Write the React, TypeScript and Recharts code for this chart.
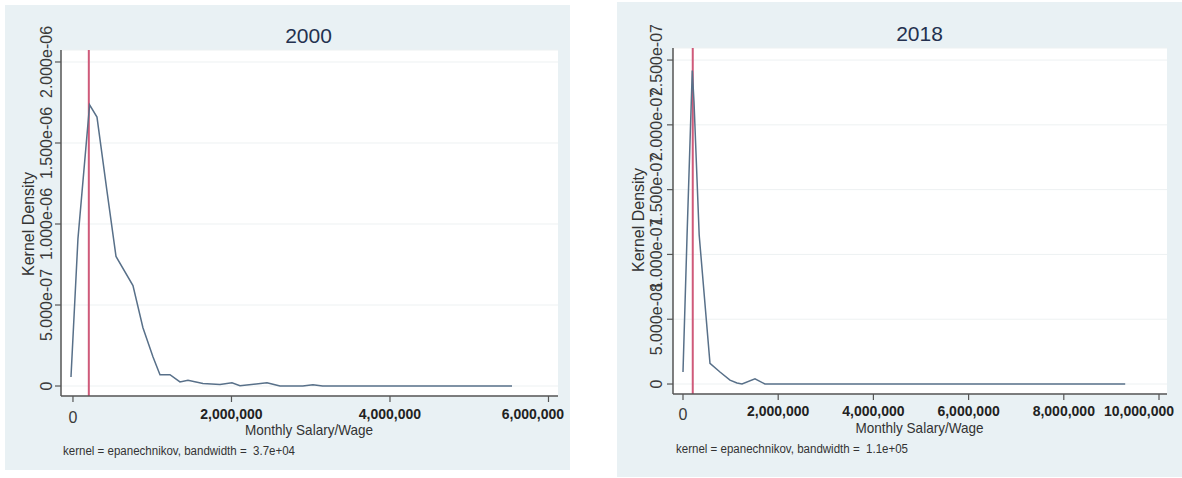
import React from 'react';
import { LineChart, Line, XAxis, YAxis, CartesianGrid, ReferenceLine, Label } from 'recharts';

// ---- data ----
const wage2000 = [-25000, 63000, 210000, 303000, 430000, 543000, 757000, 883000, 1009000, 1098000, 1224000, 1350000, 1451000, 1640000, 1855000, 2006000, 2107000, 2448000, 2612000, 2900000, 3028000, 3150000, 5540000];
const density2000 = [0.056e-6, 0.91e-6, 1.735e-6, 1.66e-6, 1.2e-6, 0.8e-6, 0.62e-6, 0.36e-6, 0.18e-6, 0.07e-6, 0.07e-6, 0.025e-6, 0.035e-6, 0.015e-6, 0.01e-6, 0.02e-6, 0.002e-6, 0.02e-6, 0, 0, 0.008e-6, 0, 0];

const wage2018 = [0, 84000, 195000, 231000, 340000, 567000, 777000, 987000, 1134000, 1240000, 1512000, 1722000, 9290000];
const density2018 = [0.93e-8, 11.3e-8, 24.2e-8, 21.8e-8, 11.5e-8, 1.6e-8, 0.93e-8, 0.3e-8, 0.08e-8, 0, 0.4e-8, 0, 0];

const xTicks2000 = [0, 2000000, 4000000, 6000000];
const yTicks2000 = [0, 5e-7, 1e-6, 1.5e-6, 2e-6];
const xTicks2018 = [0, 2000000, 4000000, 6000000, 8000000, 10000000];
const yTicks2018 = [0, 5e-8, 1e-7, 1.5e-7, 2e-7, 2.5e-7];

const median2000 = 200000;
const median2018 = 205000;

const titles = ['2000', '2018'];
const xTitle = 'Monthly Salary/Wage';
const yTitle = 'Kernel Density';
const notes = ['kernel = epanechnikov, bandwidth =  3.7e+04', 'kernel = epanechnikov, bandwidth =  1.1e+05'];

const FONT = '"Liberation Sans", Arial, sans-serif';
const PANEL_BG = '#e9f1f4';
const LINE_COLOR = '#587089';
const RED = '#cf5a7a';
const AXIS = '#555';

const fmtY = (v: number) => {
  if (v === 0) return '0';
  return v.toExponential(3).replace(/e([+-])(\d)$/, 'e$10$2');
};
const fmtX = (v: number) => v.toLocaleString('en-US');

const makeYTick = (dx: number) => (props: any) => {
  const { x, y, payload } = props;
  const bx = x + dx;
  return (
    <text x={bx} y={y} transform={`rotate(-90 ${bx} ${y})`} textAnchor="middle" fontSize={16} fontFamily={FONT} fill="#3a3a3a">
      {fmtY(payload.value)}
    </text>
  );
};

const makeXTick = (dyBold: number, dyZero: number, lastValue: number, lastRight: number) => (props: any) => {
  const { x, y, payload } = props;
  const v = payload.value;
  if (v === 0) {
    return (
      <text x={x} y={y + dyZero} textAnchor="middle" fontSize={16} fontFamily={FONT} fill="#3a3a3a">0</text>
    );
  }
  if (v === lastValue) {
    return (
      <text x={lastRight} y={y + dyBold} textAnchor="end" fontSize={14} fontWeight="bold" fontFamily={FONT} fill="#222">
        {fmtX(v)}
      </text>
    );
  }
  return (
    <text x={x} y={y + dyBold} textAnchor="middle" fontSize={14} fontWeight="bold" fontFamily={FONT} fill="#222">
      {fmtX(v)}
    </text>
  );
};

type PanelProps = {
  left: number; top: number; width: number; height: number;
  margin: { top: number; right: number; bottom: number; left: number };
  xs: number[]; ys: number[]; xTicks: number[]; yTicks: number[];
  xDomain: [number, number]; yDomain: [number, number];
  median: number; title: string; note: string;
  titleX: number; titleY: number; yTitleX: number; yTitleY: number;
  xTitleX: number; xTitleY: number; noteX: number; noteY: number;
  yTickDx: number; xTickDyBold: number; xTickDyZero: number; lastTickRight: number;
};

function Panel(p: PanelProps) {
  const data = p.xs.map((x, i) => ({ x, y: p.ys[i] }));
  return (
    <div style={{ position: 'absolute', left: p.left, top: p.top, width: p.width, height: p.height, background: PANEL_BG }}>
      <LineChart width={p.width} height={p.height} data={data} margin={p.margin}>
        <CartesianGrid vertical={false} stroke="#edf1f2" fill="#ffffff" />
        <XAxis
          type="number" dataKey="x" domain={p.xDomain} ticks={p.xTicks} allowDataOverflow
          height={30} tickSize={6} tickMargin={0}
          axisLine={{ stroke: AXIS, strokeWidth: 1.5 }} tickLine={{ stroke: AXIS, strokeWidth: 1.2 }}
          tick={makeXTick(p.xTickDyBold, p.xTickDyZero, p.xTicks[p.xTicks.length - 1], p.lastTickRight)} interval={0}
        >
          <Label content={() => (
            <text x={p.xTitleX} y={p.xTitleY} textAnchor="middle" fontSize={15} fontFamily={FONT} fill="#333" textLength={128} lengthAdjust="spacingAndGlyphs">{xTitle}</text>
          )} />
          <Label content={() => (
            <text x={p.noteX} y={p.noteY} fontSize={12.5} fontFamily={FONT} fill="#333" textLength={232} lengthAdjust="spacingAndGlyphs" style={{ whiteSpace: 'pre' }}>{p.note}</text>
          )} />
          <Label content={() => (
            <text x={p.titleX} y={p.titleY} textAnchor="middle" fontSize={21} fontFamily={FONT} fill="#24314f">{p.title}</text>
          )} />
        </XAxis>
        <YAxis
          type="number" domain={p.yDomain} ticks={p.yTicks} allowDataOverflow
          width={56} tickSize={6} tickMargin={0}
          axisLine={{ stroke: AXIS, strokeWidth: 1.5 }} tickLine={{ stroke: AXIS, strokeWidth: 1.2 }}
          tick={makeYTick(p.yTickDx)} interval={0}
        >
          <Label content={() => (
            <text x={p.yTitleX} y={p.yTitleY} transform={`rotate(-90 ${p.yTitleX} ${p.yTitleY})`} textAnchor="middle" fontSize={16} fontFamily={FONT} fill="#333">{yTitle}</text>
          )} />
        </YAxis>
        <ReferenceLine x={p.median} stroke={RED} strokeWidth={2} ifOverflow="hidden" />
        <Line type="linear" dataKey="y" stroke={LINE_COLOR} strokeWidth={1.5} dot={false} isAnimationActive={false} />
      </LineChart>
    </div>
  );
}

export default function App() {
  return (
    <div style={{ position: 'absolute', left: 0, top: 0, width: 1182, height: 478, background: '#ffffff', fontFamily: FONT }}>
      <Panel
        left={5} top={5} width={565} height={465}
        margin={{ top: 45, right: 12, bottom: 44, left: 0 }}
        xs={wage2000} ys={density2000} xTicks={xTicks2000} yTicks={yTicks2000}
        xDomain={[-151000, 6120000]} yDomain={[-6.17e-8, 2.074e-6]}
        median={median2000} title={titles[0]} note={notes[0]}
        titleX={303.5} titleY={38} yTitleX={28.5} yTitleY={219}
        xTitleX={304} xTitleY={430} noteX={58} noteY={450}
        yTickDx={-3} xTickDyBold={17} xTickDyZero={21} lastTickRight={559}
      />
      <Panel
        left={617} top={2} width={565} height={475}
        margin={{ top: 46, right: 15, bottom: 53, left: 0 }}
        xs={wage2018} ys={density2018} xTicks={xTicks2018} yTicks={yTicks2018}
        xDomain={[-210000, 10168000]} yDomain={[-7.7e-9, 2.593e-7]}
        median={median2018} title={titles[1]} note={notes[1]}
        titleX={302.5} titleY={39} yTitleX={26.5} yTitleY={218}
        xTitleX={302.5} xTitleY={431} noteX={59} noteY={451}
        yTickDx={-5} xTickDyBold={16} xTickDyZero={20} lastTickRight={557}
      />
    </div>
  );
}
